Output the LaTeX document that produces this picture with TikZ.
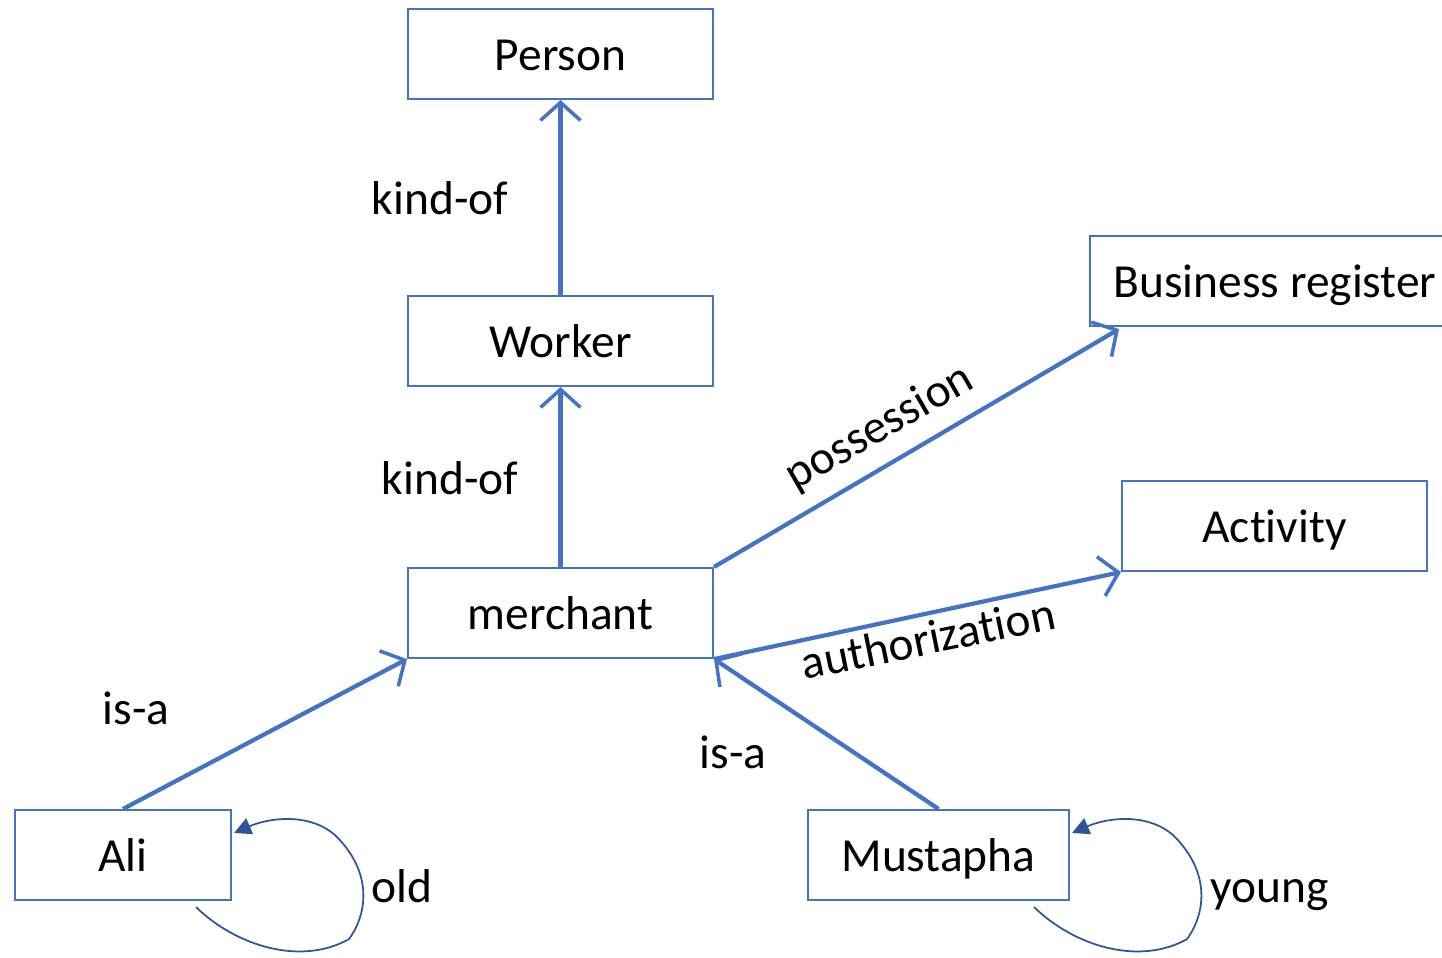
\documentclass[tikz,border=0pt]{standalone}
\usepackage{fontspec}
\setmainfont{Carlito}[Ligatures=NoCommon]
\usetikzlibrary{arrows.meta, positioning, calc}
\definecolor{OfficeBlue}{HTML}{4472C4}
\definecolor{OfficeDarkBlue}{HTML}{2F5597}
\tikzset{
    % concept boxes
    concept/.style={
        rectangle,
        draw=OfficeBlue,
        fill=white,
        line width=1.2pt,
        minimum width=6.1cm,
        minimum height=1.8cm,
        text height=0.64cm,
        text depth=0cm,
        align=center,
        font=\fontsize{27}{32}\selectfont
    },
    % relation arrows
    relation/.style={
        -{Straight Barb[length=3.6mm, width=8mm, line width=2pt]},
        line width=2.4pt,
        draw=OfficeBlue
    },
    selfloop/.style={
        -{Triangle[length=3.4mm, width=3.4mm]},
        line width=1pt,
        draw=OfficeDarkBlue
    },
    rellabel/.style={
        font=\fontsize{27}{32}\selectfont,
        inner sep=0pt
    }
}
\begin{document}
\begin{tikzpicture}
    \useasboundingbox (0,0) rectangle (28.84,-19.14);
    \clip (0,0) rectangle (28.84,-19.14);

    % Concepts
    \node[concept] (person) at (11.21,-1.08) {Person};
    \node[concept] (worker) at (11.21,-6.82) {Worker};
    \node[concept] (merchant) at (11.21,-12.26) {merchant};
    \node[concept, minimum width=7.4cm] (register) at (25.5,-5.62) {Business register};
    \node[concept] (activity) at (25.49,-10.52) {Activity};
    \node[concept, minimum width=4.32cm] (ali) at (2.46,-17.1) {Ali};
    \node[concept, minimum width=5.22cm] (mustapha) at (18.77,-17.1) {Mustapha};

    % Relations
    \draw[relation] (worker.north) -- (person.south);
    \draw[relation] (merchant.north) -- (worker.south);
    \draw[relation] (merchant.north east) -- ($(register.south west)+(0.6,-0.04)$);
    \draw[relation] (merchant.south east) -- (activity.south west);
    \draw[relation] (ali.north) -- (merchant.south west);
    \draw[relation] (mustapha.north) -- (merchant.south east);

    % Self loops
    \draw[selfloop] ($(ali.south east)+(-0.72,-0.12)$)
        .. controls +(0.8,-0.78) and +(-0.96,-0.54) .. ++(3.06,-0.64)
        .. controls +(0.4,0.56) and +(0.7,-0.7) .. ++(-0.26,2.06)
        .. controls +(-0.5,0.46) and +(0.74,0.32) .. ($(ali.north east)+(0.04,-0.48)$);
    \draw[selfloop] ($(mustapha.south east)+(-0.72,-0.12)$)
        .. controls +(0.8,-0.78) and +(-0.96,-0.54) .. ++(3.06,-0.64)
        .. controls +(0.4,0.56) and +(0.7,-0.7) .. ++(-0.26,2.06)
        .. controls +(-0.5,0.46) and +(0.74,0.32) .. ($(mustapha.north east)+(0.04,-0.48)$);

    % Labels
    \node[rellabel] (kindof1) at (8.8,-3.96) {kind-of};
    \node[rellabel] (kindof2) at (9.0,-9.56) {kind-of};
    \node[rellabel, rotate=30] (possession) at (17.6,-8.56) {possession};
    \node[rellabel, rotate=11.5] (authorization) at (18.56,-12.76) {authorization};
    \node[rellabel] (isa1) at (2.72,-14.16) {is-a};
    \node[rellabel] (isa2) at (14.66,-15.04) {is-a};
    \node[rellabel, anchor=base] (old) at (8.04,-18.04) {old};
    \node[rellabel, anchor=base] (young) at (25.4,-18.04) {young};
\end{tikzpicture}
\end{document}
